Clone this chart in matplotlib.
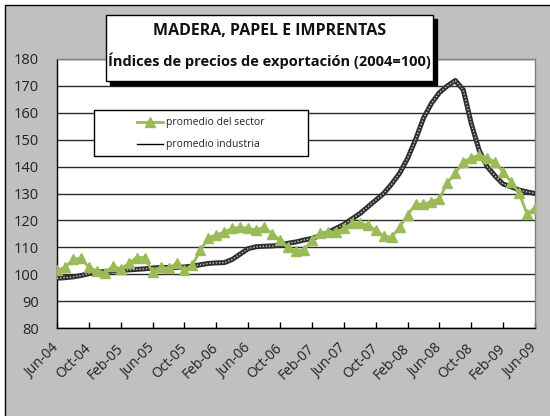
import numpy as np
import matplotlib
matplotlib.use("Agg")
import matplotlib.pyplot as plt
from matplotlib.patches import Rectangle
from matplotlib.lines import Line2D

# ---- data ----
tick_labels = ["Jun-04", "Oct-04", "Feb-05", "Jun-05", "Oct-05", "Feb-06", "Jun-06", "Oct-06",
               "Feb-07", "Jun-07", "Oct-07", "Feb-08", "Jun-08", "Oct-08", "Feb-09", "Jun-09"]

sector = [101.5, 102.5, 105.5, 106.0, 102.5, 101.3, 100.5, 103.0, 102.0, 104.0,
          106.2, 106.2, 100.8, 102.7, 102.2, 104.0, 101.5, 103.4, 109.0, 113.5,
          114.6, 115.7, 117.0, 117.5, 117.0, 116.4, 117.5, 115.0, 112.7, 110.0,
          108.6, 109.0, 112.7, 115.3, 115.7, 115.7, 117.0, 119.0, 119.0, 118.3,
          116.4, 114.2, 113.8, 117.5, 122.0, 126.0, 126.0, 127.0, 128.0, 134.0,
          137.6, 141.7, 143.2, 144.3, 143.2, 141.7, 138.0, 134.3, 130.2, 122.4,
          124.6]

industria = [98.5, 98.7, 99.0, 99.5, 100.2, 100.7, 101.0, 101.2, 101.4, 101.6,
             101.8, 102.0, 102.3, 102.5, 102.5, 102.5, 102.7, 103.0, 103.5, 104.0,
             104.2, 104.3, 105.5, 107.5, 109.5, 110.2, 110.4, 110.5, 110.8, 111.5,
             112.0, 112.7, 113.3, 114.3, 115.5, 117.0, 118.5, 120.5, 122.5, 125.0,
             127.5, 130.0, 133.5, 137.5, 143.0, 150.0, 158.0, 163.5, 167.5, 170.0,
             172.0, 168.5, 156.0, 146.0, 140.0, 136.5, 133.5, 132.5, 131.3, 130.6,
             130.0]

label_sector = "promedio del sector"
label_industria = "promedio industria"
title1 = "MADERA, PAPEL E IMPRENTAS"
title2 = "Índices de precios de exportación (2004=100)"

# ---- layout ----
W, H = 550, 416
plt.rcParams["font.family"] = ["Open Sans", "DejaVu Sans"]

fig = plt.figure(figsize=(W / 100, H / 100), dpi=100, facecolor="white")

def fx(x):
    return x / W

def fy(y):
    return 1 - y / H

# chart area background with border
fig.patches.append(Rectangle((fx(5), fy(420)), fx(560) - fx(5), fy(5) - fy(420),
                             transform=fig.transFigure, facecolor="#C0C0C0",
                             edgecolor="black", lw=1.0, zorder=-5))

ax = fig.add_axes([fx(57), fy(328), fx(535) - fx(57), fy(59) - fy(328)], zorder=1)
ax.set_facecolor("white")

x = np.arange(len(sector))
ax.set_xlim(0, len(sector) - 1)
ax.set_ylim(80, 180)
ax.set_yticks(np.arange(80, 181, 10))
ax.yaxis.grid(True, color="#2a2a2a", lw=1.0)
ax.set_axisbelow(True)

ax.plot(x, industria, color="#2e2e2e", lw=3.6, solid_capstyle="round", zorder=3)
ax.plot(x, industria, color="#c8c8c8", lw=1.0, linestyle=(0, (1, 1.3)), zorder=4)
ax.plot(x, sector, color="#9BBB59", lw=2.0, marker="^", markersize=6.5,
        markeredgecolor="#9BBB59", zorder=5)

ax.set_xticks(np.arange(0, len(sector), 4))
ax.set_xticklabels(tick_labels, rotation=45, ha="right", va="center",
                   rotation_mode="anchor", fontsize=10, color="#222222")
ax.tick_params(axis="x", direction="in", length=4, width=1, color="black", pad=13)
ax.tick_params(axis="y", length=0, pad=13, labelsize=10.5, labelcolor="#222222")

for s in ["left", "bottom"]:
    ax.spines[s].set_color("black")
    ax.spines[s].set_linewidth(1.0)
for s in ["top", "right"]:
    ax.spines[s].set_color("#808080")
    ax.spines[s].set_linewidth(1.0)

# ---- title box with shadow ----
bx0, by0, bx1, by1 = 106, 15, 433, 81
fig.patches.append(Rectangle((fx(bx0 + 4), fy(by1 + 4)), fx(bx1) - fx(bx0), fy(by0) - fy(by1),
                             transform=fig.transFigure, facecolor="black",
                             edgecolor="black", lw=1, zorder=10))
fig.patches.append(Rectangle((fx(bx0), fy(by1)), fx(bx1) - fx(bx0), fy(by0) - fy(by1),
                             transform=fig.transFigure, facecolor="white",
                             edgecolor="black", lw=1, zorder=11))
fig.text(fx((bx0 + bx1) / 2), fy(31), title1, ha="center", va="center",
         fontsize=11.5, fontweight="bold", color="#111111", zorder=12)
fig.text(fx((bx0 + bx1) / 2), fy(61), title2, ha="center", va="center",
         fontsize=10.5, fontweight="bold", color="#111111", zorder=12)

# ---- legend box ----
lx0, ly0, lx1, ly1 = 94, 110, 308, 156
fig.patches.append(Rectangle((fx(lx0), fy(ly1)), fx(lx1) - fx(lx0), fy(ly0) - fy(ly1),
                             transform=fig.transFigure, facecolor="white",
                             edgecolor="black", lw=1, zorder=10))
fig.lines.append(Line2D([fx(137), fx(163)], [fy(122), fy(122)], transform=fig.transFigure,
                        color="#9BBB59", lw=2, zorder=11))
fig.lines.append(Line2D([fx(150)], [fy(122)], transform=fig.transFigure, marker="^",
                        markersize=6.5, color="#9BBB59", zorder=12))
fig.lines.append(Line2D([fx(137), fx(163)], [fy(144), fy(144)], transform=fig.transFigure,
                        color="black", lw=1, zorder=11))
fig.text(fx(166), fy(122), label_sector, ha="left", va="center", fontsize=7.5,
         color="#222222", zorder=12)
fig.text(fx(166), fy(144), label_industria, ha="left", va="center", fontsize=7.5,
         color="#222222", zorder=12)

fig.savefig("out.png", dpi=100, facecolor=fig.get_facecolor())
